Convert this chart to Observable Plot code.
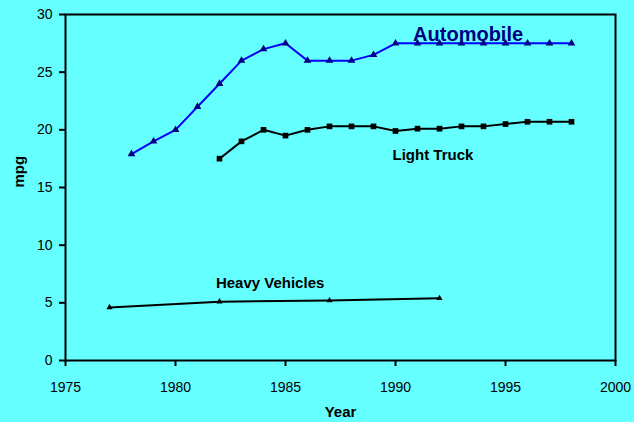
<!DOCTYPE html>
<html>
<head>
<meta charset="utf-8">
<script src="https://cdn.jsdelivr.net/npm/d3@7"></script>
<script src="https://cdn.jsdelivr.net/npm/@observablehq/plot@0.6"></script>
<style>
  html, body { margin: 0; padding: 0; background: #66ffff; }
  #chart svg { display: block; }
</style>
</head>
<body>
<div id="chart"></div>
<script>
const autoYears = [1978,1979,1980,1981,1982,1983,1984,1985,1986,1987,1988,1989,1990,1991,1992,1993,1994,1995,1996,1997,1998];
const autoMpg   = [17.9,19.0,20.0,22.0,24.0,26.0,27.0,27.5,26.0,26.0,26.0,26.5,27.5,27.5,27.5,27.5,27.5,27.5,27.5,27.5,27.5];

const truckYears = [1982,1983,1984,1985,1986,1987,1988,1989,1990,1991,1992,1993,1994,1995,1996,1997,1998];
const truckMpg   = [17.5,19.0,20.0,19.5,20.0,20.3,20.3,20.3,19.9,20.1,20.1,20.3,20.3,20.5,20.7,20.7,20.7];

const heavyYears = [1977,1982,1987,1992];
const heavyMpg   = [4.6,5.1,5.2,5.4];

const xTicks = [1975,1980,1985,1990,1995,2000];
const yTicks = [0,5,10,15,20,25,30];

const seriesLabels = ["Automobile","Light Truck","Heavy Vehicles"];
const labelYears = [1993.3,1991.7,1984.3];
const labelMpg = [28.3,17.8,6.7];

const auto = autoYears.map((y,i)=>({year:y, mpg:autoMpg[i]}));
const truck = truckYears.map((y,i)=>({year:y, mpg:truckMpg[i]}));
const heavy = heavyYears.map((y,i)=>({year:y, mpg:heavyMpg[i]}));
const labels = seriesLabels.map((t,i)=>({text:t, year:labelYears[i], mpg:labelMpg[i]}));

const chart = Plot.plot({
  width: 634,
  height: 422,
  marginLeft: 65,
  marginRight: 19,
  marginTop: 14,
  marginBottom: 62,
  style: {background: "#66ffff", fontFamily: "'Liberation Sans', Arial, sans-serif", fontSize: "14px", color: "#000"},
  x: {domain: [1975, 2000]},
  y: {domain: [0, 30]},
  marks: [
    Plot.frame({stroke: "#000", strokeWidth: 2}),
    Plot.axisY({ticks: yTicks, tickSize: 6, tickPadding: 7, strokeWidth: 2, label: null, fontSize: 14}),
    Plot.axisX({ticks: xTicks, tickSize: 6, tickPadding: 16, strokeWidth: 2, tickFormat: d => String(d), label: null, fontSize: 14}),
    Plot.text(["mpg"], {frameAnchor: "left", dx: -46, rotate: -90, fontWeight: "bold", fontSize: 15}),
    Plot.text(["Year"], {frameAnchor: "bottom", dy: 56, fontWeight: "bold", fontSize: 15}),
    Plot.line(heavy, {x: "year", y: "mpg", stroke: "#000", strokeWidth: 2}),
    Plot.dot(heavy, {x: "year", y: "mpg", symbol: "triangle", r: 2.3, fill: "#000"}),
    Plot.line(truck, {x: "year", y: "mpg", stroke: "#000", strokeWidth: 2}),
    Plot.dot(truck, {x: "year", y: "mpg", symbol: "square", r: 3.2, fill: "#000"}),
    Plot.line(auto, {x: "year", y: "mpg", stroke: "#0000ff", strokeWidth: 2}),
    Plot.dot(auto, {x: "year", y: "mpg", symbol: "triangle", r: 1.9, fill: "#000080", stroke: "#000080"}),
    Plot.text(labels.slice(0,1), {x: "year", y: "mpg", text: "text", fill: "#000080", fontWeight: "bold", fontSize: 20}),
    Plot.text(labels.slice(1), {x: "year", y: "mpg", text: "text", fill: "#000", fontWeight: "bold", fontSize: 15})
  ]
});
document.getElementById("chart").appendChild(chart);
</script>
</body>
</html>
